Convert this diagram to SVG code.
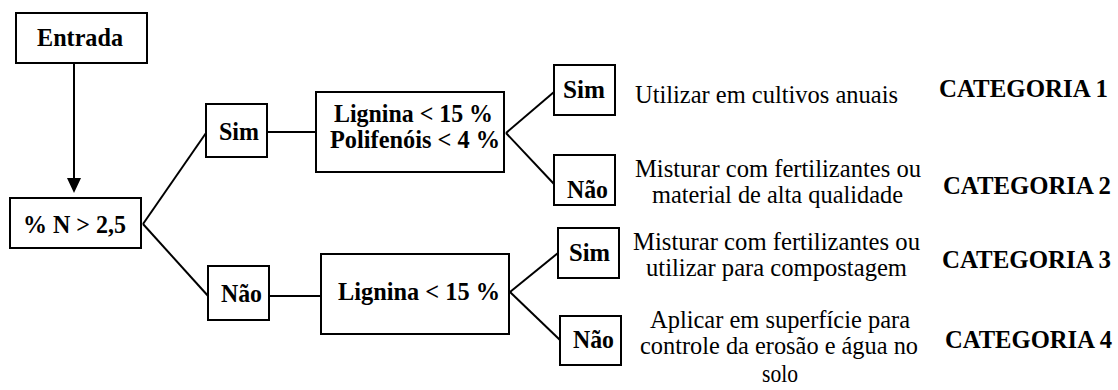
<svg xmlns="http://www.w3.org/2000/svg" width="1118" height="390" viewBox="0 0 1118 390">
<defs>
<style>
.box{fill:#fff;stroke:#000;stroke-width:2}
.ln{stroke:#000;stroke-width:2;fill:none}
.b{font-family:"Liberation Serif","Times New Roman",serif;font-weight:bold;font-size:24.5px;fill:#000;text-anchor:middle}
.r{font-family:"Liberation Serif","Times New Roman",serif;font-size:24.5px;fill:#000;text-anchor:middle}
.cat{font-family:"Liberation Serif","Times New Roman",serif;font-weight:bold;font-size:24.5px;fill:#000}
</style>
</defs>
<rect width="1118" height="390" fill="#fff"/>
<g id="connectors">
<line class="ln" x1="74" y1="63" x2="74" y2="180"/>
<polygon points="67,178 81,178 74,193" fill="#000"/>
<line class="ln" x1="143" y1="224" x2="206" y2="133"/>
<line class="ln" x1="143" y1="224" x2="209" y2="297"/>
<line class="ln" x1="267" y1="132" x2="316" y2="132"/>
<line class="ln" x1="269" y1="296" x2="321" y2="296"/>
<line class="ln" x1="506" y1="133" x2="554" y2="92"/>
<line class="ln" x1="506" y1="133" x2="554" y2="184"/>
<line class="ln" x1="510" y1="292" x2="558" y2="253"/>
<line class="ln" x1="510" y1="292" x2="560" y2="340"/>
</g>
<g id="entrada"><rect class="box" x="16" y="13" width="131" height="50"/><text class="b" x="80" y="46" textLength="86" lengthAdjust="spacingAndGlyphs">Entrada</text></g>
<g id="n25"><rect class="box" x="10" y="198" width="131" height="50"/><text class="b" x="74.5" y="233" textLength="103" lengthAdjust="spacingAndGlyphs">% N &gt; 2,5</text></g>
<g id="sim1"><rect class="box" x="206" y="104" width="61" height="53"/><text class="b" x="239" y="140" textLength="40" lengthAdjust="spacingAndGlyphs">Sim</text></g>
<g id="nao1"><rect class="box" x="208" y="266" width="61" height="54"/><text class="b" x="241.5" y="302" textLength="41" lengthAdjust="spacingAndGlyphs">Não</text></g>
<g id="lig1"><rect class="box" x="316" y="92" width="188" height="80"/><text class="b" x="413.5" y="122" textLength="159" lengthAdjust="spacingAndGlyphs">Lignina &lt; 15 %</text><text class="b" x="415" y="148" textLength="170" lengthAdjust="spacingAndGlyphs">Polifenóis &lt; 4 %</text></g>
<g id="lig2"><rect class="box" x="321" y="254" width="188" height="80"/><text class="b" x="419" y="300" textLength="162" lengthAdjust="spacingAndGlyphs">Lignina &lt; 15 %</text></g>
<g id="sim2"><rect class="box" x="554" y="65" width="61" height="50"/><text class="b" x="584" y="98" textLength="42" lengthAdjust="spacingAndGlyphs">Sim</text></g>
<g id="nao2"><rect class="box" x="554" y="155" width="61" height="50"/><text class="b" x="587.5" y="198" textLength="41" lengthAdjust="spacingAndGlyphs">Não</text></g>
<g id="sim3"><rect class="box" x="558" y="228" width="61" height="50"/><text class="b" x="589.5" y="261" textLength="41" lengthAdjust="spacingAndGlyphs">Sim</text></g>
<g id="nao3"><rect class="box" x="560" y="316" width="61" height="49"/><text class="b" x="593.5" y="348" textLength="41" lengthAdjust="spacingAndGlyphs">Não</text></g>
<g id="desc1"><text class="r" x="766.5" y="103" textLength="263" lengthAdjust="spacingAndGlyphs">Utilizar em cultivos anuais</text></g>
<g id="desc2"><text class="r" x="778" y="177" textLength="286" lengthAdjust="spacingAndGlyphs">Misturar com fertilizantes ou</text><text class="r" x="777.5" y="203" textLength="251" lengthAdjust="spacingAndGlyphs">material de alta qualidade</text></g>
<g id="desc3"><text class="r" x="776.5" y="250" textLength="287" lengthAdjust="spacingAndGlyphs">Misturar com fertilizantes ou</text><text class="r" x="776.5" y="276" textLength="261" lengthAdjust="spacingAndGlyphs">utilizar para compostagem</text></g>
<g id="desc4"><text class="r" x="780" y="328" textLength="260" lengthAdjust="spacingAndGlyphs">Aplicar em superfície para</text><text class="r" x="779" y="354" textLength="278" lengthAdjust="spacingAndGlyphs">controle da erosão e água no</text><text class="r" x="780" y="382" textLength="36" lengthAdjust="spacingAndGlyphs">solo</text></g>
<g id="cat1"><text class="cat" x="939" y="97" textLength="169" lengthAdjust="spacingAndGlyphs">CATEGORIA 1</text></g>
<g id="cat2"><text class="cat" x="943" y="194" textLength="168" lengthAdjust="spacingAndGlyphs">CATEGORIA 2</text></g>
<g id="cat3"><text class="cat" x="942" y="268" textLength="169" lengthAdjust="spacingAndGlyphs">CATEGORIA 3</text></g>
<g id="cat4"><text class="cat" x="945" y="348" textLength="167" lengthAdjust="spacingAndGlyphs">CATEGORIA 4</text></g>
</svg>
